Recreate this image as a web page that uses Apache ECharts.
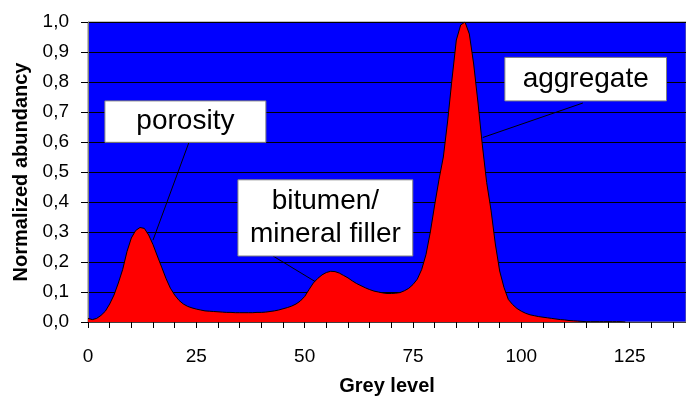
<!DOCTYPE html>
<html>
<head>
<meta charset="utf-8">
<script src="https://cdn.jsdelivr.net/npm/echarts@6/dist/echarts.min.js"></script>
<style>html,body{margin:0;padding:0;background:#fff;}#c{width:686px;height:398px;}</style>
</head>
<body>
<div id="c"></div>
<script>
// Normalized abundancy at grey levels 0,1,2,... (index = grey level)
var abundancy = [
  0.012,0.008,0.012,0.022,0.036,0.060,0.090,0.130,0.175,0.235,
  0.280,0.305,0.315,0.312,0.290,0.258,0.220,0.183,0.145,0.113,
  0.090,0.072,0.060,0.052,0.047,0.043,0.040,0.037,0.036,0.035,
  0.034,0.033,0.032,0.032,0.031,0.031,0.031,0.031,0.031,0.032,
  0.032,0.033,0.035,0.037,0.040,0.044,0.048,0.053,0.060,0.070,
  0.085,0.108,0.130,0.145,0.157,0.165,0.169,0.168,0.163,0.155,
  0.147,0.137,0.128,0.121,0.114,0.108,0.103,0.100,0.097,0.095,
  0.095,0.096,0.098,0.104,0.112,0.125,0.143,0.175,0.225,0.300,
  0.390,0.475,0.550,0.670,0.810,0.940,0.990,1.000,0.960,0.860,
  0.730,0.590,0.465,0.373,0.260,0.170,0.115,0.075,0.058,0.045,
  0.036,0.029,0.024,0.021,0.018,0.016,0.014,0.012,0.010,0.008,
  0.007,0.005,0.004,0.003,0.002,0.001,0.001,0.001,0.001,0.001,
  0.001,0.001,0.001,0.001,0
];
var xTickLabels = [0, 25, 50, 75, 100, 125];
var yTickLabels = ['0,0','0,1','0,2','0,3','0,4','0,5','0,6','0,7','0,8','0,9','1,0'];
var xMax = 138;

// Annotations in data coordinates: box [x0, yTop, x1, yBottom], leader [from, to]
var annotations = [
  { text: 'porosity', box: [3.9, 0.737, 41.05, 0.599], leader: [[23.3, 0.599], [15.0, 0.273]] },
  { text: 'bitumen/\nmineral filler', box: [34.6, 0.474, 74.95, 0.220], leader: [[42.7, 0.220], [52.4, 0.135]] },
  { text: 'aggregate', box: [96.2, 0.882, 133.5, 0.737], leader: [[114.2, 0.730], [91.1, 0.615]] }
];

var seriesData = abundancy.map(function (v, i) { return [i, v]; });

var chart = echarts.init(document.getElementById('c'));
var FONT = 'Liberation Sans, Arial, sans-serif';
chart.setOption({
  animation: false,
  grid: { left: 88, right: 0, top: 22, bottom: 76, containLabel: false, outerBoundsMode: 'none',
          show: true, backgroundColor: '#0000FF', borderColor: '#808080', borderWidth: 1 },
  xAxis: {
    type: 'value', min: 0, max: xMax, interval: 5,
    name: 'Grey level', nameLocation: 'middle', nameGap: 54,
    nameTextStyle: { fontFamily: FONT, fontSize: 20, fontWeight: 'bold', color: '#000' },
    axisLine: { show: true, lineStyle: { color: '#404040', width: 1 } },
    axisTick: { show: true, length: 6, lineStyle: { color: '#000' } },
    axisLabel: {
      margin: 25, fontFamily: FONT, fontSize: 19, color: '#000',
      showMaxLabel: false,
      formatter: function (v) { return xTickLabels.indexOf(v) >= 0 ? String(v) : ''; }
    },
    splitLine: { show: false }
  },
  yAxis: {
    type: 'value', min: 0, max: 1, interval: 0.1,
    name: 'Normalized abundancy', nameLocation: 'middle', nameGap: 57, nameRotate: 90,
    nameTextStyle: { fontFamily: FONT, fontSize: 20, fontWeight: 'bold', color: '#000' },
    axisLine: { show: true, lineStyle: { color: '#808080', width: 1 } },
    axisTick: { show: true, length: 7, lineStyle: { color: '#000' } },
    axisLabel: {
      margin: 19, fontFamily: FONT, fontSize: 19, color: '#000',
      formatter: function (v) { return yTickLabels[Math.round(v * 10)]; }
    },
    splitLine: { show: true, lineStyle: { color: '#000', width: 1 } }
  },
  series: [{
    type: 'line', data: seriesData, showSymbol: false, smooth: false,
    lineStyle: { color: '#000', width: 1 },
    areaStyle: { color: '#FF0000', opacity: 1 },
    z: 3
  }]
});

var graphics = [];
annotations.forEach(function (a) {
  var p0 = chart.convertToPixel({ gridIndex: 0 }, [a.box[0], a.box[1]]);
  var p1 = chart.convertToPixel({ gridIndex: 0 }, [a.box[2], a.box[3]]);
  var l0 = chart.convertToPixel({ gridIndex: 0 }, a.leader[0]);
  var l1 = chart.convertToPixel({ gridIndex: 0 }, a.leader[1]);
  graphics.push({
    type: 'line', z: 10,
    shape: { x1: l0[0], y1: l0[1], x2: l1[0], y2: l1[1] },
    style: { stroke: '#000', lineWidth: 1 }
  });
  graphics.push({
    type: 'rect', z: 11,
    shape: { x: p0[0], y: p0[1], width: p1[0] - p0[0], height: p1[1] - p0[1] },
    style: { fill: '#fff', stroke: '#808080', lineWidth: 1 }
  });
  graphics.push({
    type: 'text', z: 12,
    x: (p0[0] + p1[0]) / 2, y: (p0[1] + p1[1]) / 2,
    style: {
      text: a.text, fill: '#000', font: '28px ' + FONT,
      align: 'center', verticalAlign: 'middle', lineHeight: 33
    }
  });
});
chart.setOption({ graphic: graphics });
</script>
</body>
</html>
